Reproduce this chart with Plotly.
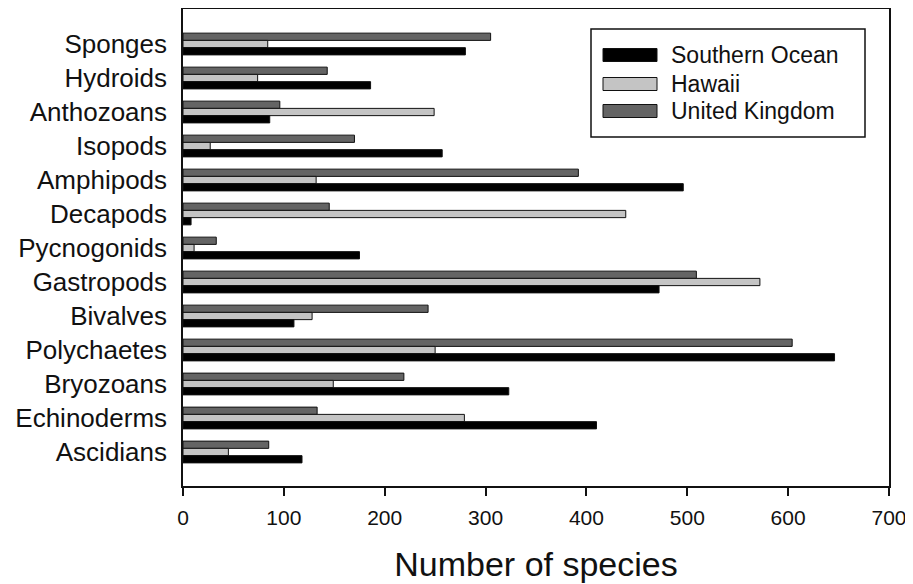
import plotly.graph_objects as go

categories = ["Sponges", "Hydroids", "Anthozoans", "Isopods", "Amphipods", "Decapods",
              "Pycnogonids", "Gastropods", "Bivalves", "Polychaetes", "Bryozoans",
              "Echinoderms", "Ascidians"]
southern_ocean = [280, 186, 86, 257, 496, 8, 175, 472, 110, 646, 323, 410, 118]
hawaii = [84, 74, 249, 27, 132, 439, 11, 572, 128, 250, 149, 279, 45]
united_kingdom = [305, 143, 96, 170, 392, 145, 33, 509, 243, 604, 219, 133, 85]
x_ticks = [0, 100, 200, 300, 400, 500, 600, 700]

series = [
    ("United Kingdom", united_kingdom, "#646464"),
    ("Hawaii", hawaii, "#c4c4c4"),
    ("Southern Ocean", southern_ocean, "#000000"),
]

FONT = "Liberation Sans, Arial, sans-serif"
fig = go.Figure()
for name, vals, col in series:
    fig.add_trace(go.Bar(
        y=categories, x=vals, name=name, orientation="h",
        marker=dict(color=col, line=dict(color="#111111", width=1)),
        showlegend=False,
    ))

# page body has an 8px margin; figure is sized to fit the 913x584 window
L, R, T, B = 183, 889, 9, 486   # plot area in page pixels
fig.update_layout(
    width=905, height=576,
    margin=dict(l=L - 8, r=913 - R, t=T - 8, b=584 - B, autoexpand=False),
    paper_bgcolor="white", plot_bgcolor="white",
    barmode="group", bargap=0.36, bargroupgap=0,
    font=dict(family=FONT, color="#111111"),
)
fig.update_xaxes(
    range=[0, 700], tickvals=x_ticks, ticks="outside", ticklen=8, tickwidth=1.5,
    tickcolor="#111111", tickfont=dict(size=21), showgrid=False, zeroline=False,
    showline=True, linecolor="#111111", linewidth=1.5, mirror=True, automargin=False,
    ticklabelstandoff=4,
    title=dict(text="Number of species", font=dict(size=34), standoff=24),
)
fig.update_yaxes(
    categoryorder="array", categoryarray=categories,
    range=[13.0, -1.03], ticks="", tickfont=dict(size=26), showgrid=False,
    showline=True, linecolor="#111111", linewidth=1.5, mirror=True,
    ticklabelstandoff=9, automargin=False,
)

# Legend box drawn in axis-domain coordinates (pixel positions relative to plot area)
def px_x(p):
    return (p - L) / (R - L)

def px_y(p):
    return (B - p) / (B - T)

fig.add_shape(type="rect", xref="x domain", yref="y domain",
              x0=px_x(591), x1=px_x(865), y0=px_y(137), y1=px_y(29),
              line=dict(color="#111111", width=1.5), fillcolor="white")
legend_items = [("Southern Ocean", "#000000", 55), ("Hawaii", "#c4c4c4", 84),
                ("United Kingdom", "#646464", 111)]
for name, col, cy in legend_items:
    fig.add_shape(type="rect", xref="x domain", yref="y domain",
                  x0=px_x(603), x1=px_x(657), y0=px_y(cy + 6.5), y1=px_y(cy - 6.5),
                  line=dict(color="#111111", width=1), fillcolor=col)
    fig.add_annotation(xref="x domain", yref="y domain", x=px_x(669), y=px_y(cy),
                       text=name, showarrow=False, xanchor="left", yanchor="middle",
                       font=dict(size=23, family=FONT, color="#111111"))

fig.write_html("out.html")
